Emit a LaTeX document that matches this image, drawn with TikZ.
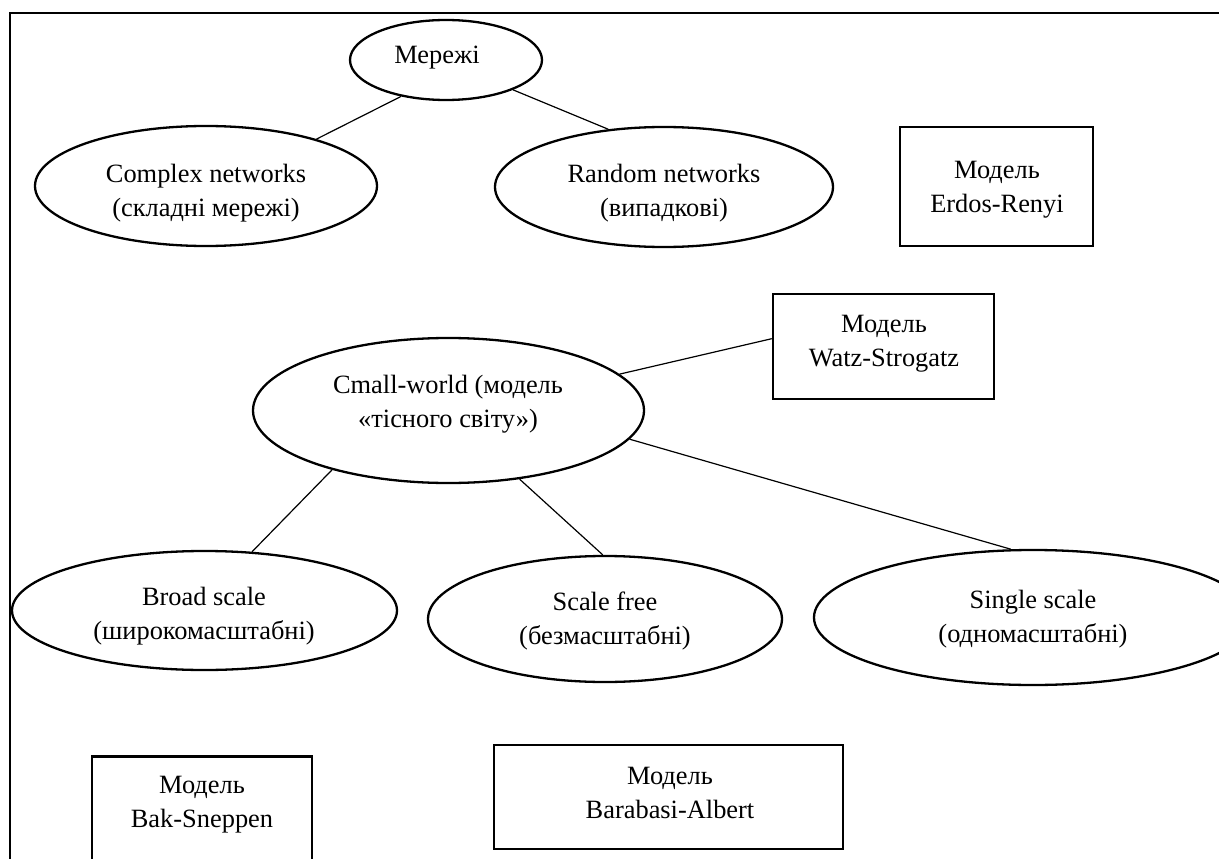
\documentclass[tikz,border=0pt]{standalone}
\usepackage{fontspec}
\setmainfont{Liberation Serif}
\usetikzlibrary{shapes.geometric}
\begin{document}
\begin{tikzpicture}[x=1pt,y=-1pt,
  oval/.style={draw, ellipse, line width=2.3pt, inner sep=0pt},
  modelbox/.style={draw, rectangle, line width=2.5pt, inner sep=0pt},
  txt/.style={align=center, inner sep=0pt, font=\fontsize{26.4}{34}\selectfont},
  link/.style={line width=1.2pt}]
\useasboundingbox (0,0) rectangle (1219,859);
\clip (0,0) rectangle (1219,859);

% page frame: top and left edges
\draw[line width=2.2pt] (1219,13) -- (10,13) -- (10,859);

% top level
\node[oval, minimum width=192, minimum height=80] (mer) at (446,60) {};
\node[txt, anchor=base] (merT) at (437,64) {Мережі};

\node[oval, minimum width=342, minimum height=120] (cn) at (206,186) {};
\node[txt] (cnT) at (206,192.7) {\strut Complex networks\\\strut (складні мережі)};

\node[oval, minimum width=338, minimum height=120] (rn) at (664,187) {};
\node[txt] (rnT) at (664,192.7) {\strut Random networks\\\strut (випадкові)};

\node[modelbox, minimum width=193, minimum height=119] (er) at (996.5,186.5) {};
\node[txt] (erT) at (997,188.2) {\strut Модель\\\strut Erdos-Renyi};

% small-world branch
\node[oval, minimum width=391, minimum height=145] (sw) at (448.5,410.5) {};
\node[txt] (swT) at (448,403.7) {\strut Cmall-world (модель\\\strut «тісного світу»)};

\node[modelbox, minimum width=221, minimum height=105] (ws) at (883.5,346.5) {};
\node[txt] (wsT) at (884,342.7) {\strut Модель\\\strut Watz-Strogatz};

% degree distribution classes
\node[oval, minimum width=385, minimum height=119] (bs) at (204.5,610.5) {};
\node[txt] (bsT) at (204,615.7) {\strut Broad scale\\\strut (широкомасштабні)};

\node[oval, minimum width=354, minimum height=126] (sf) at (605,619) {};
\node[txt] (sfT) at (605,620.2) {\strut Scale free\\\strut (безмасштабні)};

\node[oval, minimum width=438, minimum height=135] (ss) at (1033,617.5) {};
\node[txt] (ssT) at (1033,618.2) {\strut Single scale\\\strut (одномасштабні)};

% models at the bottom
\node[modelbox, minimum width=220, minimum height=140, anchor=north] (bk) at (202,755) {};
\node[txt] (bkT) at (202,803.7) {\strut Модель\\\strut Bak-Sneppen};

\node[modelbox, minimum width=349, minimum height=104] (ba) at (668.5,797) {};
\node[txt] (baT) at (670,794.7) {\strut Модель\\\strut Barabasi-Albert};

% connectors
\draw[link] (mer.219.2) -- (cn.23.3);
\draw[link] (mer.-24.3) -- (rn.134.5);
\draw[link] (sw.12.3) -- (ws.176.1);
\draw[link] (sw.207.1) -- (bs.51.4);
\draw[link] (sw.-44.2) -- (sf.92);
\draw[link] (sw.-9.2) -- (ss.108.6);
\end{tikzpicture}
\end{document}
